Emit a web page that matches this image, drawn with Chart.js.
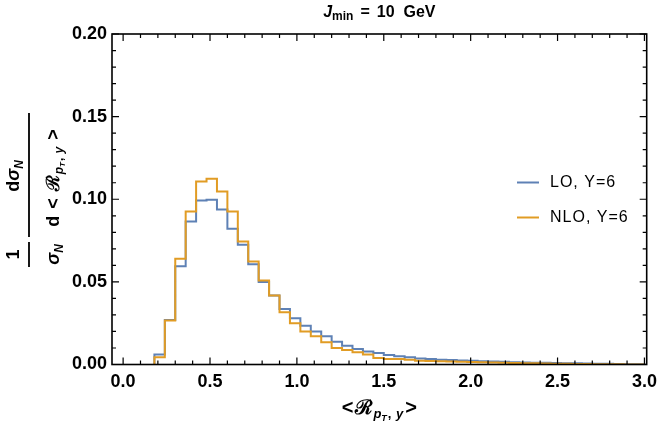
<!DOCTYPE html>
<html><head><meta charset="utf-8">
<script src="https://cdn.jsdelivr.net/npm/chart.js@4.4.1/dist/chart.umd.min.js"></script>
<style>html,body{margin:0;padding:0;background:#fff}#wrap{width:664px;height:426px}</style>
</head><body><div id="wrap"><canvas id="c" width="664" height="426"></canvas></div>
<script>
// Bin left edges (bin width 0.06)
const binLeft = [0.18,0.24,0.30,0.36,0.42,0.48,0.54,0.60,0.66,0.72,0.78,0.84,0.90,0.96,1.02,1.08,1.14,1.20,1.26,1.32,1.38,1.44,1.50,1.56,1.62,1.68,1.74,1.80,1.86,1.92,1.98,2.04,2.10,2.16,2.22,2.28,2.34,2.40,2.46,2.52,2.58,2.64,2.70,2.76,2.82,2.88,2.94];
const binWidth = 0.06;
const loValues = [0.0060,0.0270,0.0595,0.0866,0.0993,0.0997,0.0938,0.0821,0.0724,0.0607,0.0500,0.0417,0.0336,0.0280,0.0235,0.0199,0.0171,0.0138,0.0114,0.0094,0.0078,0.0070,0.0058,0.0050,0.0044,0.0037,0.0033,0.0029,0.0027,0.0024,0.0022,0.0020,0.0018,0.0016,0.0014,0.0012,0.0011,0.0010,0.0009,0.0008,0.0007,0.0006,0.0005,0.0004,0.0003,0.0002,0.0001];
const nloValues = [0.0044,0.0266,0.0640,0.0926,0.1108,0.1124,0.1047,0.0926,0.0744,0.0623,0.0508,0.0417,0.0316,0.0250,0.0199,0.0171,0.0135,0.0100,0.0088,0.0074,0.0060,0.0040,0.0033,0.0033,0.0029,0.0023,0.0021,0.0020,0.0018,0.0016,0.0015,0.0013,0.0012,0.0010,0.0009,0.0008,0.0007,0.0006,0.0005,0.0004,0.0003,0.0003,0.0002,0.0001,0.0001,0.0000,0.0000];
const xTickValues = [0.0,0.5,1.0,1.5,2.0,2.5,3.0];
const xMinorTicks = [0.1,0.2,0.3,0.4,0.6,0.7,0.8,0.9,1.1,1.2,1.3,1.4,1.6,1.7,1.8,1.9,2.1,2.2,2.3,2.4,2.6,2.7,2.8,2.9];
const yTickValues = [0.00,0.05,0.10,0.15,0.20];
const yMinorTicks = [0.01,0.02,0.03,0.04,0.06,0.07,0.08,0.09,0.11,0.12,0.13,0.14,0.16,0.17,0.18,0.19];
const seriesNames = ['LO, Y=6','NLO, Y=6'];
const seriesColors = ['rgb(94,129,181)','rgb(225,156,36)'];

function stepPoints(values){
  const pts = [{x: binLeft[0], y: 0}];
  values.forEach((v,i)=>pts.push({x: binLeft[i], y: v}));
  const end = binLeft[binLeft.length-1] + binWidth;
  pts.push({x: end, y: values[values.length-1]});
  pts.push({x: end, y: 0});
  return pts;
}

const FONT = '"Liberation Sans", Arial, sans-serif';

function measureRuns(ctx, parts){
  let w = 0;
  for (const p of parts){ ctx.font = p.f; w += ctx.measureText(p.t).width + (p.g||0); }
  return w;
}
function drawRuns(ctx, parts, cx, base){
  const w = measureRuns(ctx, parts);
  let x = cx - w/2;
  ctx.textAlign = 'left'; ctx.textBaseline = 'alphabetic';
  for (const p of parts){
    ctx.font = p.f;
    ctx.fillText(p.t, x, base + (p.dy||0));
    x += ctx.measureText(p.t).width + (p.g||0);
  }
}

const framePlugin = {
  id: 'frame',
  afterDraw(chart){
    const ctx = chart.ctx, a = chart.chartArea;
    const xs = chart.scales.x, ys = chart.scales.y;
    ctx.save();
    ctx.strokeStyle = '#000'; ctx.lineWidth = 1.6;
    ctx.strokeRect(a.left, a.top, a.right-a.left, a.bottom-a.top);
    ctx.lineWidth = 1.2;
    ctx.beginPath();
    const tickX = (v, len) => { const px = xs.getPixelForValue(v);
      ctx.moveTo(px, a.bottom); ctx.lineTo(px, a.bottom-len);
      ctx.moveTo(px, a.top); ctx.lineTo(px, a.top+len); };
    const tickY = (v, len) => { const py = ys.getPixelForValue(v);
      ctx.moveTo(a.left, py); ctx.lineTo(a.left+len, py);
      ctx.moveTo(a.right, py); ctx.lineTo(a.right-len, py); };
    xTickValues.forEach(v=>tickX(v,7)); xMinorTicks.forEach(v=>tickX(v,4));
    yTickValues.forEach(v=>tickY(v,7)); yMinorTicks.forEach(v=>tickY(v,4));
    ctx.stroke();

    ctx.fillStyle = '#000';
    // Title
    const tb = 'bold 16px ' + FONT, tbi = 'italic bold 16px ' + FONT, ts = 'bold 12px ' + FONT;
    drawRuns(ctx, [{t:'J', f:tbi}, {t:'min', f:ts, dy:3, g:7}, {t:'=', f:tb, g:7}, {t:'10', f:tb, g:9}, {t:'GeV', f:tb}], (a.left+a.right)/2, 17);

    // X label
    const lb = 'bold 20px ' + FONT, lsi = 'italic bold 13px ' + FONT, ls = 'bold 13px ' + FONT, lss = 'italic bold 9px ' + FONT;
    drawRuns(ctx, [{t:'<', f:lb, g:2},{t:'ℛ', f:lb, g:1},{t:'p', f:lsi, dy:4},{t:'T', f:lss, dy:7, g:1},{t:', ', f:ls, dy:4, g:1},{t:'y', f:lsi, dy:4, g:2},{t:'>', f:lb}], (a.left+a.right)/2, 414);

    // Y label (rotated)
    ctx.save();
    ctx.translate(29, 0);
    ctx.rotate(-Math.PI/2);
    const yb = 'bold 18px ' + FONT, ybi = 'italic bold 18px ' + FONT, ysi = 'italic bold 12px ' + FONT, ys2 = 'bold 12px ' + FONT, yss = 'italic bold 8px ' + FONT;
    ctx.lineWidth = 1.8;
    ctx.beginPath();
    ctx.moveTo(-267, 0); ctx.lineTo(-242, 0);
    ctx.moveTo(-237, 0); ctx.lineTo(-113, 0);
    ctx.stroke();
    drawRuns(ctx, [{t:'1', f:yb}], -254.5, -10);
    drawRuns(ctx, [{t:'σ', f:ybi},{t:'N', f:ysi, dy:4}], -254.5, 30);
    drawRuns(ctx, [{t:'d', f:yb},{t:'σ', f:ybi},{t:'N', f:ysi, dy:4}], -176, -10);
    drawRuns(ctx, [{t:'d', f:yb, g:7},{t:'<', f:yb, g:7},{t:'ℛ', f:yb, g:1},{t:'p', f:ysi, dy:4},{t:'T', f:yss, dy:6, g:1},{t:', ', f:ys2, dy:4, g:1},{t:'y', f:ysi, dy:4, g:7},{t:'>', f:yb}], -178, 30);
    ctx.restore();

    // Legend
    const lf = '16px ' + FONT;
    chart.data.datasets.forEach((ds, i) => {
      const y = 187 + i*35;
      ctx.strokeStyle = ds.borderColor; ctx.lineWidth = 2;
      ctx.beginPath(); ctx.moveTo(517, y-4.5); ctx.lineTo(539, y-4.5); ctx.stroke();
      ctx.font = lf; ctx.textAlign = 'left'; ctx.textBaseline = 'alphabetic';
      ctx.fillStyle = '#000';
      ctx.letterSpacing = '1px';
      ctx.fillText(ds.label, 550, y);
      ctx.letterSpacing = '0px';
    });
    ctx.restore();
  }
};

new Chart(document.getElementById('c'), {
  type: 'line',
  data: {
    datasets: [
      {label: seriesNames[0], data: stepPoints(loValues), borderColor: seriesColors[0], borderWidth: 2, stepped: 'before', pointRadius: 0, fill: false, order: 1},
      {label: seriesNames[1], data: stepPoints(nloValues), borderColor: seriesColors[1], borderWidth: 2, stepped: 'before', pointRadius: 0, fill: false, order: 0}
    ]
  },
  options: {
    responsive: false, animation: false, devicePixelRatio: 1,
    layout: {padding: {top: 34, right: 13, left: 0, bottom: 0}},
    plugins: {legend: {display: false}, title: {display: false}, tooltip: {enabled: false}},
    scales: {
      x: {type: 'linear', min: -0.064, max: 3.013,
          grid: {display: false, drawTicks: false}, border: {display: false},
          afterBuildTicks: s => { s.ticks = xTickValues.map(v => ({value: v})); },
          afterFit: s => { s.height = 61.5; },
          ticks: {color: '#000', font: {family: FONT, size: 18, weight: 'bold'}, padding: 7, maxRotation: 0, autoSkip: false, callback: v => Number(v).toFixed(1)}},
      y: {type: 'linear', min: 0, max: 0.2,
          grid: {display: false, drawTicks: false}, border: {display: false},
          afterBuildTicks: s => { s.ticks = yTickValues.map(v => ({value: v})); },
          afterFit: s => { s.width = 112; },
          ticks: {color: '#000', font: {family: FONT, size: 18, weight: 'bold'}, padding: 5, autoSkip: false, callback: v => Number(v).toFixed(2)}}
    }
  },
  plugins: [framePlugin]
});
</script></body></html>
